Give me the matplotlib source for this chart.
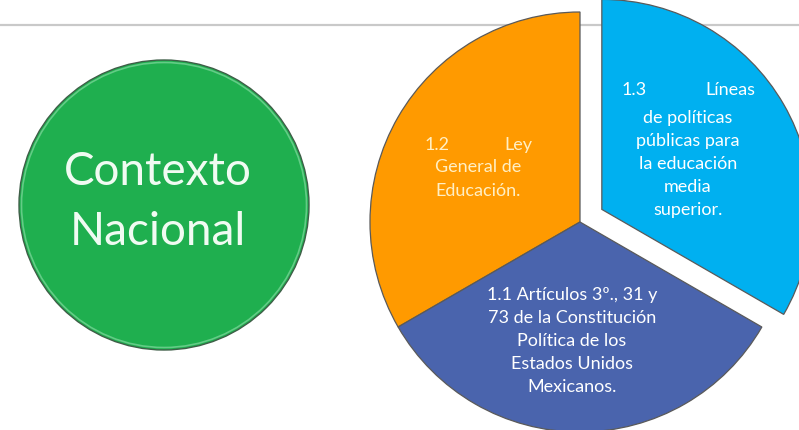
import matplotlib
matplotlib.use("Agg")
import matplotlib.pyplot as plt
from matplotlib.patches import Circle

plt.rcParams["font.family"] = ["Lato", "DejaVu Sans"]

# slices, counter-clockwise starting at 12 o'clock
slice_values = [1, 1, 1]
slice_colors = ["#FF9A00", "#4A64AD", "#00B0F0"]
slice_explode = [0.0, 0.0, 0.12]
slice_heads = [("1.2", "Ley"), None, ("1.3", "Líneas")]
slice_bodies = [
    "General de\nEducación.",
    "1.1 Artículos 3º., 31 y\n73 de la Constitución\nPolítica de los\nEstados Unidos\nMexicanos.",
    "de políticas\npúblicas para\nla educación\nmedia\nsuperior.",
]
slice_text_colors = ["#FFEFC4", "white", "white"]

circle_label = "Contexto\nNacional"

W, H = 799, 431
R = 210                      # pie radius, px
PIE_C = (580, 223)           # pie centre, px from top-left
GREEN_C, GREEN_R = (164, 206), 145

# text anchors (px from top-left)
body_pos = [(478, 179), (572, 341), (688, 164)]
head_pos = [(425, 532, 145), None, (622, 755, 90)]


def Y(py):
    return H - py


fig = plt.figure(figsize=(W / 100, H / 100), dpi=100)
ax = fig.add_axes([0, 0, 1, 1])

# thin grey rule across the top
ax.axhline(Y(26), color="#C9C9C9", linewidth=1.6, zorder=0)

# green disc
ax.add_patch(Circle((GREEN_C[0], Y(GREEN_C[1])), GREEN_R, facecolor="#1FAF4F",
                    edgecolor="#3E5E47", linewidth=1.0, zorder=2))
ax.add_patch(Circle((GREEN_C[0], Y(GREEN_C[1])), GREEN_R - 2.5, facecolor="none",
                    edgecolor="#63CC86", linewidth=1.2, zorder=2))
ax.text(GREEN_C[0] - 6, Y(202), circle_label, ha="center", va="center",
        fontsize=33, color="#F0FBF2", linespacing=1.52, zorder=3)

wedges, _ = ax.pie(slice_values, colors=slice_colors, startangle=90,
                   counterclock=True, radius=R,
                   center=(PIE_C[0], Y(PIE_C[1])),
                   explode=[e * R for e in slice_explode],
                   wedgeprops=dict(edgecolor="#5A5A5A", linewidth=0.9),
                   frame=True)

for i, body in enumerate(slice_bodies):
    bx, by = body_pos[i]
    ax.text(bx, Y(by), body, ha="center", va="center", fontsize=13,
            color=slice_text_colors[i], linespacing=1.55, zorder=4)
    if slice_heads[i] is not None:
        left, right = slice_heads[i]
        xl, xr, hy = head_pos[i]
        ax.text(xl, Y(hy), left, ha="left", va="center", fontsize=13,
                color=slice_text_colors[i], zorder=4)
        ax.text(xr, Y(hy), right, ha="right", va="center", fontsize=13,
                color=slice_text_colors[i], zorder=4)

ax.set_xlim(0, W)
ax.set_ylim(0, H)
ax.set_aspect("equal")
ax.axis("off")

fig.savefig("out.png", dpi=100, facecolor="white")
